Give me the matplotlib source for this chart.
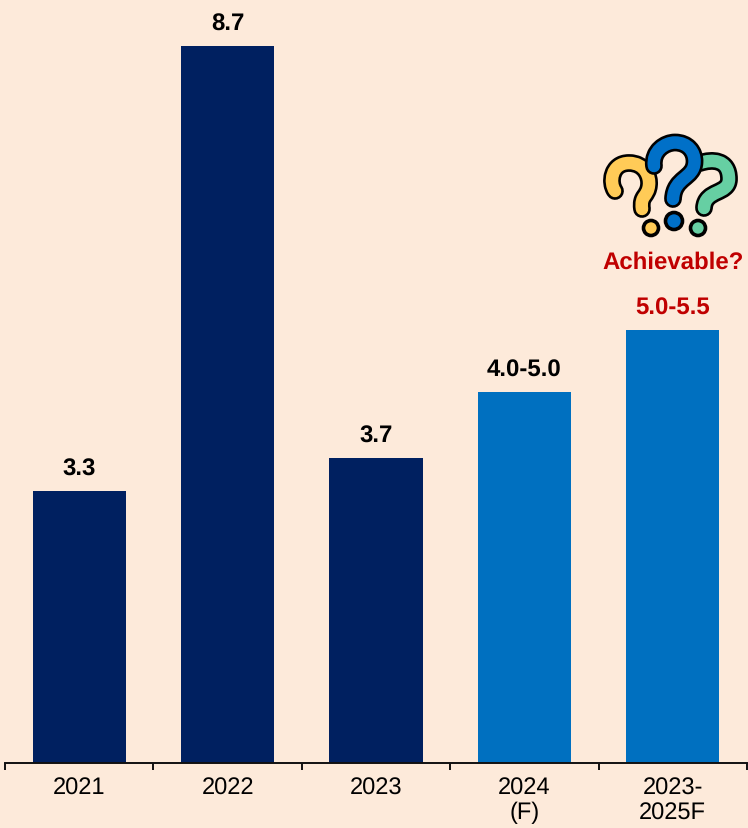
import matplotlib.pyplot as plt
from matplotlib.patches import Circle, PathPatch
from matplotlib.path import Path

# Valores del grafico
categorias = ["2021", "2022", "2023", "2024\n(F)", "2023-\n2025F"]
valores = [3.3, 8.7, 3.7, 4.5, 5.25]
etiquetas = ["3.3", "8.7", "3.7", "4.0-5.0", "5.0-5.5"]

ANCHO = 748
ALTO = 829
FONDO = "#FDEADA"
AZUL_OSCURO = "#002060"
AZUL = "#0070C0"
ROJO = "#C00000"
colores = [AZUL_OSCURO, AZUL_OSCURO, AZUL_OSCURO, AZUL, AZUL]
colores_texto = ["black", "black", "black", "black", ROJO]

plt.rcParams["font.family"] = ["Liberation Sans", "DejaVu Sans"]
plt.rcParams["text.hinting"] = "no_hinting"


def _signo(ax, puntos, color, punto, radio):
    """Dibuja un signo de interrogacion con contorno negro y su punto."""
    codigos = [Path.MOVETO] + [Path.CURVE4] * (len(puntos) - 1)
    trazo = Path(puntos, codigos)
    ax.add_patch(PathPatch(trazo, fill=False, ec="black", lw=12.8, capstyle="round", joinstyle="round"))
    ax.add_patch(PathPatch(trazo, fill=False, ec=color, lw=9, capstyle="round", joinstyle="round"))
    ax.add_patch(Circle(punto, radio, fc=color, ec="black", lw=2.6))


fig = plt.figure(figsize=(ANCHO / 100, ALTO / 100), dpi=100, facecolor=FONDO)

# --- Barras ---
base_y = 764.4
ax = fig.add_axes([5 / ANCHO, 1 - base_y / ALTO, 742 / ANCHO, base_y / ALTO])
ax.set_facecolor("none")
posiciones = list(range(len(categorias)))
barras = ax.bar(posiciones, valores, width=0.627, color=colores)
ax.set_xlim(-0.5, 4.5)
ax.set_ylim(0, base_y / 82.5)

for barra, etiqueta, color in zip(barras, etiquetas, colores_texto):
    ax.annotate(etiqueta, (barra.get_x() + barra.get_width() / 2, barra.get_height()),
                xytext=(0, 22.5 * 0.72), textcoords="offset points", ha="center", va="center",
                fontsize=17.3, fontweight="bold", color=color)

# Eje inferior: marcas entre categorias, textos centrados
for lado in ["top", "left", "right"]:
    ax.spines[lado].set_visible(False)
ax.spines["bottom"].set_linewidth(1.4)
ax.spines["bottom"].set_color("#111111")
ax.set_yticks([])
ax.set_xticks([p - 0.5 for p in posiciones] + [4.5])
ax.set_xticklabels([])
ax.tick_params(axis="x", which="major", length=5, width=1.4, color="#111111")
ax.set_xticks(posiciones, minor=True)
ax.set_xticklabels(categorias, minor=True, fontsize=17, color="black", linespacing=1.16)
ax.tick_params(axis="x", which="minor", length=0, pad=9)
for t in ax.get_xticklabels(minor=True):
    t.set_verticalalignment("top")

# --- Icono y pregunta, en coordenadas de pixel ---
capa = fig.add_axes([0, 0, 1, 1])
capa.set_xlim(0, ANCHO)
capa.set_ylim(ALTO, 0)
capa.axis("off")

amarillo = [(615, 192), (609, 184), (611, 164), (629, 164),
            (645, 164), (650, 178), (649, 186),
            (648, 198), (640, 196), (642, 210)]
verde = [(700, 164), (712, 160), (729, 160), (729, 180),
         (729, 196), (705, 190), (704, 209)]
azul = [(654, 167), (652, 152), (665, 143.5), (675, 143.5),
        (688, 143.5), (695, 153), (694.5, 163),
        (694, 180), (674, 178), (673, 200)]

_signo(capa, amarillo, "#FFCB57", (651, 229), 7.5)
_signo(capa, verde, "#66CFA3", (698, 229), 7.5)
_signo(capa, azul, "#0070C8", (674, 222), 8.5)

capa.text(673, 263, "Achievable?", ha="center", va="center", fontsize=17.3, fontweight="bold", color=ROJO)

fig.savefig("out.png", dpi=100, facecolor=FONDO)
